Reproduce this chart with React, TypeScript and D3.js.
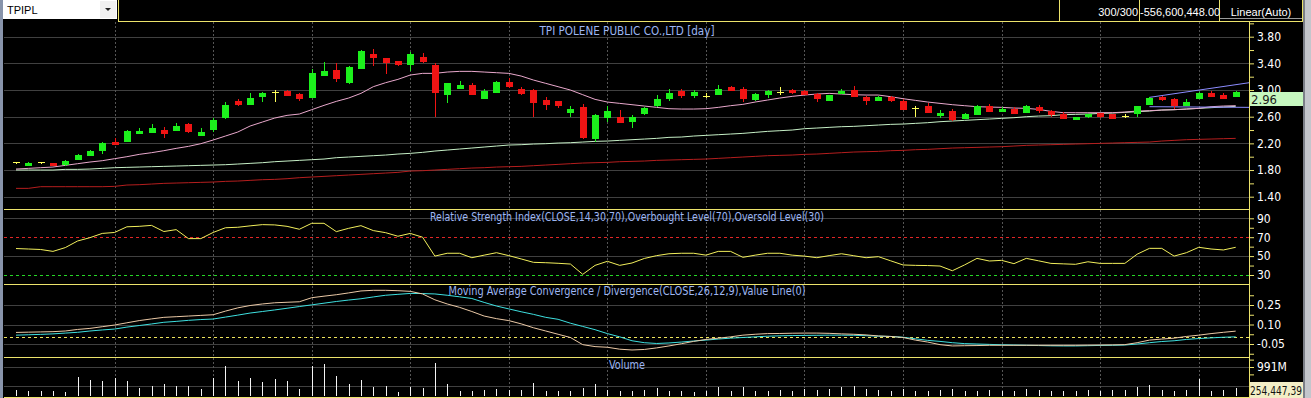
import React from 'react';
import * as d3 from 'd3';

const symbol = 'TPIPL';
const chartTitle = 'TPI POLENE PUBLIC CO.,LTD [day]';
const rsiTitle = 'Relative Strength Index(CLOSE,14,30,70),Overbought Level(70),Oversold Level(30)';
const macdTitle = 'Moving Average Convergence / Divergence(CLOSE,26,12,9),Value Line(0)';
const volumeTitle = 'Volume';
const barCount = '300/300';
const valueText = '-556,600,448.00';
const scaleMode = 'Linear(Auto)';
const lastVolumeText = '254,447,39';

const opens = [
  1.925, 1.865, 1.915, 1.905, 1.875, 1.955, 2.01, 2.085, 2.22, 2.225,
  2.345, 2.36, 2.4, 2.39, 2.49, 2.315, 2.4, 2.58, 2.835, 2.78,
  2.895, 2.97, 2.985, 2.945, 2.885, 3.21, 3.3, 3.1, 3.32, 3.545,
  3.475, 3.435, 3.38, 3.5, 3.375, 2.93, 3.02, 3.075, 2.87, 2.955,
  3.125, 3.015, 3.0, 2.845, 2.835, 2.655, 2.75, 2.265, 2.585, 2.6,
  2.525, 2.64, 2.76, 2.86, 2.99, 2.915, 2.91, 2.93, 3.05, 3.02,
  2.845, 2.925, 2.975, 3.0, 2.985, 2.94, 2.84, 2.94, 3.0, 2.9,
  2.835, 2.895, 2.84, 2.725, 2.76, 2.61, 2.69, 2.565, 2.63, 2.76,
  2.67, 2.715, 2.655, 2.75, 2.685, 2.64, 2.555, 2.59, 2.65, 2.635,
  2.61, 2.64, 2.775, 2.9, 2.86, 2.76, 2.87, 2.96, 2.93, 2.9,
];
const highs = [
  1.925, 1.92, 1.915, 1.91, 1.95, 2.045, 2.105, 2.22, 2.275, 2.395,
  2.43, 2.49, 2.44, 2.505, 2.505, 2.425, 2.58, 2.82, 2.86, 2.96,
  2.965, 3.0, 3.0, 2.95, 3.31, 3.42, 3.4, 3.36, 3.6, 3.61,
  3.475, 3.44, 3.575, 3.55, 3.4, 3.105, 3.13, 3.105, 3.01, 3.14,
  3.185, 3.045, 3.015, 2.89, 2.84, 2.765, 2.785, 2.64, 2.765, 2.705,
  2.62, 2.75, 2.925, 3.015, 3.015, 2.995, 2.95, 3.075, 3.06, 3.04,
  2.95, 3.0, 3.04, 3.015, 2.995, 2.96, 2.93, 3.01, 3.065, 2.905,
  2.91, 2.91, 2.865, 2.76, 2.81, 2.7, 2.71, 2.66, 2.775, 2.785,
  2.75, 2.75, 2.77, 2.77, 2.7, 2.67, 2.6, 2.64, 2.655, 2.64,
  2.64, 2.76, 2.9, 2.905, 2.875, 2.865, 2.975, 2.985, 2.96, 2.99,
];
const lows = [
  1.89, 1.86, 1.89, 1.86, 1.865, 1.95, 2.005, 2.045, 2.17, 2.215,
  2.34, 2.355, 2.285, 2.385, 2.35, 2.31, 2.375, 2.565, 2.755, 2.775,
  2.825, 2.825, 2.91, 2.84, 2.88, 3.205, 3.125, 3.09, 3.315, 3.365,
  3.235, 3.365, 3.29, 3.41, 2.59, 2.81, 3.015, 2.925, 2.865, 2.95,
  3.035, 2.93, 2.6, 2.7, 2.725, 2.6, 2.27, 2.22, 2.525, 2.5,
  2.435, 2.63, 2.75, 2.835, 2.885, 2.885, 2.875, 2.925, 2.98, 2.825,
  2.84, 2.885, 2.925, 2.945, 2.92, 2.825, 2.835, 2.935, 2.895, 2.775,
  2.83, 2.82, 2.695, 2.6, 2.65, 2.585, 2.54, 2.56, 2.625, 2.67,
  2.665, 2.64, 2.65, 2.655, 2.59, 2.565, 2.55, 2.575, 2.585, 2.565,
  2.58, 2.6, 2.77, 2.835, 2.715, 2.755, 2.865, 2.895, 2.86, 2.895,
];
const closes = [
  1.925, 1.905, 1.915, 1.86, 1.935, 2.03, 2.085, 2.205, 2.175, 2.385,
  2.385, 2.43, 2.345, 2.46, 2.37, 2.37, 2.55, 2.775, 2.775, 2.88,
  2.955, 2.97, 2.915, 2.865, 3.26, 3.285, 3.165, 3.35, 3.59, 3.485,
  3.41, 3.375, 3.54, 3.425, 2.96, 3.105, 3.07, 2.93, 2.985, 3.125,
  3.05, 2.94, 2.81, 2.775, 2.765, 2.715, 2.275, 2.625, 2.69, 2.51,
  2.6, 2.735, 2.865, 2.96, 2.915, 2.965, 2.91, 3.015, 2.985, 2.86,
  2.935, 2.99, 2.975, 2.95, 2.925, 2.87, 2.925, 2.99, 2.9, 2.83,
  2.9, 2.835, 2.7, 2.725, 2.655, 2.66, 2.55, 2.64, 2.76, 2.675,
  2.715, 2.645, 2.755, 2.685, 2.625, 2.57, 2.6, 2.64, 2.59, 2.57,
  2.61, 2.76, 2.875, 2.85, 2.765, 2.82, 2.96, 2.9, 2.865, 2.965,
];

// moving averages
const maPink = [
  1.815, 1.825, 1.835, 1.845, 1.87, 1.895, 1.92, 1.94, 1.97, 2.0,
  2.035, 2.06, 2.09, 2.125, 2.155, 2.195, 2.25, 2.31, 2.37, 2.46,
  2.52, 2.58, 2.62, 2.64, 2.705, 2.77, 2.83, 2.88, 2.95, 3.05,
  3.11, 3.16, 3.225, 3.25, 3.25, 3.27, 3.28, 3.28, 3.27, 3.26,
  3.25, 3.21, 3.15, 3.1, 3.05, 3.0, 2.93, 2.86, 2.82, 2.8,
  2.78, 2.76, 2.74, 2.72, 2.715, 2.715, 2.72, 2.74, 2.765, 2.785,
  2.82, 2.85, 2.88, 2.905, 2.925, 2.94, 2.95, 2.94, 2.93, 2.925,
  2.925, 2.9, 2.87, 2.845, 2.82, 2.8, 2.78, 2.765, 2.75, 2.745,
  2.74, 2.73, 2.725, 2.71, 2.68, 2.66, 2.66, 2.66, 2.66, 2.66,
  2.67, 2.685, 2.69, 2.7, 2.705, 2.715, 2.725, 2.75, 2.76, 2.765,
];
const maGreen = [
  1.8, 1.8, 1.8, 1.8, 1.81, 1.81, 1.815, 1.825, 1.835, 1.84,
  1.845, 1.85, 1.855, 1.86, 1.865, 1.87, 1.875, 1.88, 1.89, 1.9,
  1.91, 1.925, 1.935, 1.945, 1.955, 1.965, 1.985, 1.995, 2.005, 2.015,
  2.025, 2.04, 2.05, 2.065, 2.085, 2.1, 2.115, 2.13, 2.145, 2.16,
  2.175, 2.18, 2.19, 2.195, 2.205, 2.21, 2.22, 2.23, 2.235, 2.245,
  2.255, 2.265, 2.275, 2.29, 2.295, 2.31, 2.32, 2.33, 2.34, 2.35,
  2.365, 2.38, 2.39, 2.4, 2.42, 2.43, 2.44, 2.45, 2.455, 2.465,
  2.475, 2.485, 2.49, 2.5, 2.51, 2.525, 2.535, 2.545, 2.555, 2.565,
  2.575, 2.585, 2.6, 2.61, 2.615, 2.63, 2.635, 2.64, 2.65, 2.655,
  2.665, 2.675, 2.685, 2.7, 2.705, 2.715, 2.725, 2.735, 2.745, 2.755,
];
const maRed = [
  1.525, 1.525, 1.55, 1.55, 1.55, 1.55, 1.55, 1.55, 1.555, 1.575,
  1.58, 1.59, 1.6, 1.605, 1.61, 1.615, 1.62, 1.63, 1.635, 1.645,
  1.655, 1.66, 1.67, 1.685, 1.695, 1.705, 1.715, 1.725, 1.735, 1.745,
  1.755, 1.765, 1.785, 1.79, 1.8, 1.81, 1.82, 1.83, 1.835, 1.845,
  1.85, 1.855, 1.865, 1.875, 1.885, 1.895, 1.905, 1.91, 1.915, 1.925,
  1.93, 1.935, 1.945, 1.95, 1.955, 1.96, 1.965, 1.975, 1.985, 1.995,
  2.005, 2.015, 2.02, 2.025, 2.035, 2.04, 2.05, 2.06, 2.07, 2.075,
  2.08, 2.09, 2.095, 2.105, 2.11, 2.12, 2.13, 2.135, 2.14, 2.145,
  2.15, 2.16, 2.17, 2.175, 2.18, 2.185, 2.19, 2.195, 2.2, 2.205,
  2.21, 2.215, 2.22, 2.235, 2.245, 2.255, 2.26, 2.265, 2.27, 2.275,
];
// trend channel: [bar index, price]
const trendUpper = [[92, 2.89], [100.1, 3.11]];
const trendLower = [[92, 2.75], [100.1, 2.74]];

const rsi = [
  58, 57.5, 57, 55, 59, 66, 69.5, 74, 75, 81,
  81.5, 82.5, 76, 78, 68.5, 68.5, 75, 80, 80.5, 82,
  83.3, 83, 81.5, 78.4, 84.7, 84.7, 75.9, 79.4, 82.2, 77,
  74.8, 71, 74, 70, 50, 53, 53, 48.3, 51, 53.6,
  50.5, 47, 43.4, 43, 42.4, 41.6, 30.7, 40.2, 44.5, 40.2,
  42.7, 47.5, 50.5, 52.5, 53, 53, 51, 55, 55, 48.7,
  51, 53, 53, 51, 50, 48.3, 50.5, 52.5, 50.4, 48.3,
  49.4, 45, 40.6, 40.2, 40, 39.5, 34.5, 40.7, 47.6, 44.8,
  45.5, 42, 47.6, 45, 42.3, 41.8, 41.3, 44, 42.3, 42.3,
  42.3, 52, 58.2, 58.2, 50, 53.6, 59.3, 57.5, 56.5, 59.3,
];
const macd = [
  0.039, 0.041, 0.043, 0.045, 0.05, 0.062, 0.07, 0.083, 0.096, 0.113,
  0.13, 0.143, 0.155, 0.16, 0.165, 0.17, 0.175, 0.203, 0.228, 0.246,
  0.258, 0.267, 0.271, 0.275, 0.306, 0.318, 0.329, 0.343, 0.358, 0.363,
  0.363, 0.36, 0.355, 0.335, 0.29, 0.258, 0.232, 0.2, 0.165, 0.145,
  0.13, 0.105, 0.075, 0.05, 0.025, 0.0, -0.055, -0.07, -0.075, -0.09,
  -0.096, -0.092, -0.08, -0.065, -0.048, -0.03, -0.015, -0.005, 0.005, 0.018,
  0.025, 0.03, 0.031, 0.033, 0.034, 0.034, 0.032, 0.028, 0.025, 0.02,
  0.012, 0.008, 0.0, -0.02, -0.035, -0.055, -0.065, -0.063, -0.062, -0.06,
  -0.06, -0.06, -0.06, -0.06, -0.06, -0.06, -0.06, -0.059, -0.058, -0.057,
  -0.055, -0.04, -0.02, -0.012, -0.005, 0.008, 0.018, 0.03, 0.04, 0.049,
];
const signal = [
  0.018, 0.021, 0.024, 0.028, 0.034, 0.04, 0.05, 0.058, 0.065, 0.08,
  0.092, 0.104, 0.117, 0.124, 0.132, 0.138, 0.142, 0.157, 0.172, 0.188,
  0.2, 0.212, 0.225, 0.238, 0.251, 0.264, 0.277, 0.288, 0.298, 0.312,
  0.325, 0.332, 0.339, 0.338, 0.335, 0.325, 0.313, 0.3, 0.27, 0.242,
  0.22, 0.198, 0.178, 0.155, 0.14, 0.11, 0.085, 0.06, 0.03, 0.005,
  -0.025, -0.04, -0.046, -0.042, -0.035, -0.027, -0.02, -0.012, -0.005, 0.0,
  0.005, 0.01, 0.013, 0.015, 0.016, 0.017, 0.018, 0.018, 0.017, 0.014,
  0.01, 0.008, 0.002, -0.01, -0.022, -0.03, -0.04, -0.047, -0.05, -0.053,
  -0.056, -0.058, -0.06, -0.062, -0.064, -0.065, -0.065, -0.063, -0.061, -0.06,
  -0.058, -0.05, -0.04, -0.031, -0.025, -0.015, -0.008, -0.003, 0.002, 0.005,
];
// volume in millions
const volume = [
  224, 190, 190, 190, 157, 668, 558, 524, 625, 524,
  300, 357, 424, 357, 357, 267, 635, 1025, 524, 635,
  491, 591, 524, 257, 1025, 1092, 691, 424, 558, 334,
  357, 157, 311, 291, 1136, 424, 190, 190, 224, 257,
  224, 224, 458, 190, 190, 190, 291, 424, 224, 190,
  190, 224, 300, 190, 190, 157, 190, 334, 190, 334,
  190, 190, 224, 190, 257, 224, 257, 334, 357, 257,
  224, 190, 257, 190, 190, 224, 257, 190, 190, 224,
  190, 190, 257, 224, 190, 190, 190, 224, 190, 224,
  224, 334, 391, 224, 190, 224, 591, 190, 224, 300,
];

const priceTicks = [3.8, 3.4, 3.0, 2.6, 2.2, 1.8, 1.4];
const priceMinor = [4.0, 3.6, 3.2, 2.8, 2.4, 2.0, 1.6];
const rsiTicks = [90, 70, 50, 30];
const rsiMinor = [80, 60, 40];
const macdTicks = [0.25, 0.1, -0.05];
const macdMinor = [0.325, 0.175, 0.025, -0.125];
const volumeTicks = [991];
const volumeMinor = [1239, 743];
const volumeGrid = [991, 360];

const W = 1311;
const H = 398;
const left = 4;
const axisX = 1249;
const rightEdge = 1303;
const narrow = '"Liberation Sans Narrow", "Arial Narrow", "DejaVu Sans Condensed", sans-serif';
const sans = '"Liberation Sans", Arial, sans-serif';

const YELLOW = '#ece36c';
const GRID = '#404040';
const TITLE = '#9db6f2';

const App: React.FC = () => {
  const ref = React.useRef<SVGSVGElement>(null);

  React.useEffect(() => {
    const svg = d3.select(ref.current);
    svg.selectAll('*').remove();

    const px = (v: number) => Math.round(v) + 0.5;

    const x = d3.scaleLinear().domain([0, 99]).range([16, 1235.7]);
    const yP = d3.scaleLinear().domain([1.4, 3.8]).range([196.7, 36.7]);
    const yR = d3.scaleLinear().domain([30, 90]).range([275, 218.3]);
    const yM = d3.scaleLinear().domain([-0.05, 0.25]).range([344, 305]);
    const yV = d3.scaleLinear().domain([0, 991]).range([396.5, 367]);

    svg.append('rect').attr('width', W).attr('height', H).attr('fill', '#000');

    const hline = (y: number, color: string, dash?: string) =>
      svg
        .append('line')
        .attr('x1', left)
        .attr('x2', axisX)
        .attr('y1', px(y))
        .attr('y2', px(y))
        .attr('stroke', color)
        .attr('stroke-dasharray', dash || null)
        .attr('shape-rendering', 'crispEdges');

    // horizontal grid
    priceTicks.forEach((t) => hline(yP(t), GRID));
    [90, 50].forEach((t) => hline(yR(t), GRID));
    macdTicks.forEach((t) => hline(yM(t), GRID));
    volumeGrid.forEach((t) => hline(yV(t), GRID));

    // vertical dashed grid every 8 bars
    const vIdx = d3.range(8, 100, 8);
    svg
      .selectAll('.vgrid')
      .data(vIdx)
      .enter()
      .append('line')
      .attr('x1', (d: number) => px(x(d)))
      .attr('x2', (d: number) => px(x(d)))
      .attr('y1', 22)
      .attr('y2', 396)
      .attr('stroke', '#555')
      .attr('stroke-dasharray', '2,2')
      .attr('shape-rendering', 'crispEdges');

    hline(yR(70), '#e02626', '3,3');
    hline(yR(30), '#26d626', '3,3');
    hline(yM(0), '#eee45c', '3,3');

    // panel separators
    [209, 284, 357, 396.7].forEach((y) => hline(y, YELLOW));

    // titles
    const title = (txt: string, y: number, len: number) =>
      svg
        .append('text')
        .attr('x', 627 - len / 2)
        .attr('y', y)
        .attr('textLength', len)
        .attr('lengthAdjust', 'spacingAndGlyphs')
        .attr('fill', TITLE)
        .style('font-family', narrow)
        .style('font-size', '12px')
        .text(txt);
    title(chartTitle, 35, 175);
    title(rsiTitle, 220.5, 394);
    title(macdTitle, 295, 357);
    title(volumeTitle, 369, 36);

    // price panel
    const plot = svg.append('g');
    const lineP = d3
      .line<number>()
      .x((_d: number, i: number) => x(i))
      .y((d: number) => yP(d));
    const addLine = (data: number[], color: string, gen: d3.Line<number>) =>
      plot
        .append('path')
        .datum(data)
        .attr('fill', 'none')
        .attr('stroke', color)
        .attr('stroke-width', 1)
        .attr('d', gen);
    addLine(maRed, '#b51e1e', lineP);
    addLine(maGreen, '#c6efc6', lineP);
    addLine(maPink, '#e9a8cc', lineP);

    const trend = d3
      .line<number[]>()
      .x((d: number[]) => x(d[0]))
      .y((d: number[]) => yP(d[1]));
    [trendUpper, trendLower].forEach((t) =>
      plot.append('path').datum(t).attr('fill', 'none').attr('stroke', '#8c8cff').attr('d', trend)
    );

    const candles = closes.map((c, i) => ({ i, o: opens[i], h: highs[i], l: lows[i], c }));
    const colorOf = (d: { o: number; c: number }) =>
      d.c > d.o ? '#1cf01c' : d.c < d.o ? '#f01414' : '#ffff5a';

    plot
      .selectAll('.wick')
      .data(candles)
      .enter()
      .append('line')
      .attr('x1', (d) => px(x(d.i)))
      .attr('x2', (d) => px(x(d.i)))
      .attr('y1', (d) => Math.round(yP(d.h)))
      .attr('y2', (d) => Math.round(yP(d.l)))
      .attr('stroke', colorOf)
      .attr('shape-rendering', 'crispEdges');

    plot
      .selectAll('.body')
      .data(candles.filter((d) => d.o !== d.c))
      .enter()
      .append('rect')
      .attr('x', (d) => Math.round(x(d.i)) - 3)
      .attr('width', 7)
      .attr('y', (d) => Math.round(yP(Math.max(d.o, d.c))))
      .attr('height', (d) => Math.max(1, Math.round(yP(Math.min(d.o, d.c))) - Math.round(yP(Math.max(d.o, d.c)))))
      .attr('fill', colorOf)
      .attr('shape-rendering', 'crispEdges');

    plot
      .selectAll('.doji')
      .data(candles.filter((d) => d.o === d.c))
      .enter()
      .append('line')
      .attr('x1', (d) => Math.round(x(d.i)) - 3)
      .attr('x2', (d) => Math.round(x(d.i)) + 4)
      .attr('y1', (d) => px(yP(d.o)))
      .attr('y2', (d) => px(yP(d.o)))
      .attr('stroke', colorOf)
      .attr('shape-rendering', 'crispEdges');

    // RSI
    svg
      .append('path')
      .datum(rsi)
      .attr('fill', 'none')
      .attr('stroke', '#f2ef5c')
      .attr('d', d3.line<number>().x((_d: number, i: number) => x(i)).y((d: number) => yR(d)));

    // MACD
    const lineM = d3.line<number>().x((_d: number, i: number) => x(i)).y((d: number) => yM(d));
    svg.append('path').datum(signal).attr('fill', 'none').attr('stroke', '#3ee0e0').attr('d', lineM);
    svg.append('path').datum(macd).attr('fill', 'none').attr('stroke', '#ebc9a6').attr('d', lineM);

    // volume
    svg
      .selectAll('.vol')
      .data(volume)
      .enter()
      .append('line')
      .attr('x1', (_d: number, i: number) => px(x(i)))
      .attr('x2', (_d: number, i: number) => px(x(i)))
      .attr('y1', 396)
      .attr('y2', (d: number) => Math.round(yV(d)))
      .attr('stroke', '#f4f4f4')
      .attr('shape-rendering', 'crispEdges');

    // right axes
    const axisG = svg.append('g').attr('transform', `translate(${axisX},0)`);
    const styleAxis = (g: d3.Selection<SVGGElement, unknown, null, undefined>) => {
      g.select('.domain').remove();
      g.selectAll('line').attr('stroke', YELLOW);
      g.selectAll('text')
        .attr('fill', '#fff')
        .style('font-family', narrow)
        .style('font-size', '12px');
    };
    const addAxis = (
      scale: d3.ScaleLinear<number, number>,
      major: number[],
      minor: number[],
      fmt: (d: number) => string
    ) => {
      axisG
        .append('g')
        .call(d3.axisRight(scale).tickValues(major).tickSize(5).tickPadding(3).tickFormat((d) => fmt(+d)))
        .call(styleAxis);
      axisG
        .append('g')
        .call(d3.axisRight(scale).tickValues(minor).tickSize(5).tickFormat(() => ''))
        .call(styleAxis);
    };
    addAxis(yP, priceTicks, priceMinor, (d) => d.toFixed(2));
    addAxis(yR, rsiTicks, rsiMinor, (d) => String(d));
    addAxis(yM, macdTicks, macdMinor, (d) => d.toFixed(2));
    addAxis(yV, volumeTicks, volumeMinor, (d) => `${d}M`);

    svg
      .append('line')
      .attr('x1', axisX + 0.5)
      .attr('x2', axisX + 0.5)
      .attr('y1', 21)
      .attr('y2', H)
      .attr('stroke', YELLOW)
      .attr('shape-rendering', 'crispEdges');

    // last price box
    const last = closes[closes.length - 1];
    const boxY = Math.round(yP(last));
    svg.append('rect').attr('x', axisX + 1).attr('y', boxY).attr('width', rightEdge - axisX - 1).attr('height', 14).attr('fill', '#c6f7bf');
    svg
      .append('text')
      .attr('x', axisX + 2)
      .attr('y', boxY + 11.5)
      .attr('fill', '#1a1a1a')
      .style('font-family', narrow)
      .style('font-size', '13px')
      .text(last.toFixed(2).slice(0, 4));

    // last volume box
    svg.append('rect').attr('x', axisX + 1).attr('y', 382).attr('width', rightEdge - axisX - 1).attr('height', 16).attr('fill', '#f3eec6');
    svg
      .append('text')
      .attr('x', axisX + 1)
      .attr('y', 394.5)
      .attr('textLength', 52)
      .attr('lengthAdjust', 'spacingAndGlyphs')
      .attr('fill', '#111')
      .style('font-family', narrow)
      .style('font-size', '13px')
      .text(lastVolumeText);

    // top bar
    const top = svg.append('g');
    top.append('rect').attr('x', 3).attr('y', 0).attr('width', 114).attr('height', 19).attr('fill', '#fff');
    top.append('rect').attr('x', 100).attr('y', 1).attr('width', 16).attr('height', 17).attr('fill', '#f0f0f0');
    top.append('path').attr('d', 'M105,8 L111,8 L108,11 Z').attr('fill', '#222');
    top
      .append('text')
      .attr('x', 7)
      .attr('y', 14)
      .attr('fill', '#000')
      .style('font-family', sans)
      .style('font-size', '11px')
      .text(symbol);
    top
      .append('path')
      .attr('d', `M118.5,0 V21.5 H${rightEdge - 0.5} V0 M1059.5,0 V21 M1139.5,0 V21 M1219.5,0 V21`)
      .attr('fill', 'none')
      .attr('stroke', YELLOW)
      .attr('shape-rendering', 'crispEdges');
    top.append('line').attr('x1', 1220).attr('x2', 1302).attr('y1', 18.5).attr('y2', 18.5).attr('stroke', '#9a9a9a');
    const topText = (txt: string, xx: number, anchor: string) =>
      top
        .append('text')
        .attr('x', xx)
        .attr('y', 16)
        .attr('text-anchor', anchor)
        .attr('fill', '#fff')
        .style('font-family', sans)
        .style('font-size', '11px')
        .text(txt);
    topText(barCount, 1138, 'end');
    topText(valueText, 1140, 'start');
    topText(scaleMode, 1261, 'middle');

    // window edges
    svg.append('rect').attr('x', 0).attr('y', 0).attr('width', 3).attr('height', H).attr('fill', '#8894ab');
    svg.append('rect').attr('x', rightEdge).attr('y', 0).attr('width', W - rightEdge).attr('height', H).attr('fill', '#c3c6cc');
    svg.append('rect').attr('x', rightEdge).attr('y', 0).attr('width', 2).attr('height', H).attr('fill', '#7b7f88');
  }, []);

  return (
    <svg
      ref={ref}
      width={W}
      height={H}
      style={{ position: 'absolute', left: 0, top: 0, display: 'block' }}
    />
  );
};

export default App;
